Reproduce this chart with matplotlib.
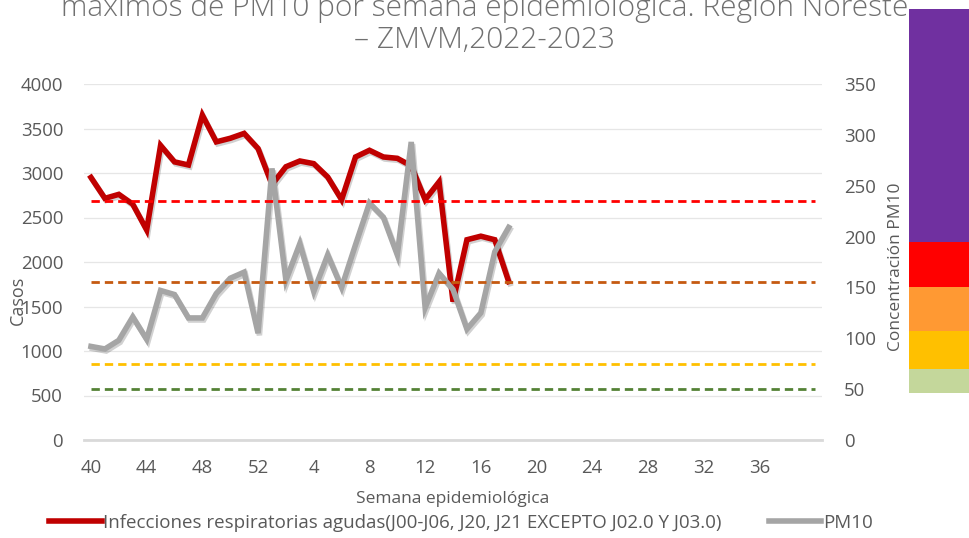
from matplotlib import pyplot as plt
from matplotlib import patheffects as pe
from matplotlib.lines import Line2D

# categorias: semanas 40-52 de 2022 y 1-40 de 2023
semanas = list(range(40, 53)) + list(range(1, 41))

# casos de IRA (eje izquierdo), semana 40/2022 a semana 18/2023
casos = [2950, 2715, 2760, 2650, 2360, 3310, 3125, 3090, 3650, 3350, 3390,
         3445, 3275, 2870, 3070, 3135, 3105, 2955, 2700, 3180, 3255, 3180,
         3165, 3080, 2700, 2900, 1555, 2250, 2290, 2250, 1780]

# maximos de PM10 (eje derecho)
pm10 = [92, 89.5, 98, 121, 99, 147, 143, 120, 120, 144, 159, 165, 105, 267,
        157, 193, 146, 182, 150, 192, 233, 219, 182, 293, 130, 164, 148, 109,
        125, 185, 209]

# lineas de referencia PM10 (punteadas)
umbrales = [235, 155, 75, 50]
umbral_colores = ['#FF0000', '#C55A11', '#FFC000', '#548235']

# barra de colores (concentracion PM10)
banda_limites = [46, 70, 107, 150, 195, 424]
banda_colores = ['#C4D79B', '#FFC000', '#FF9933', '#FF0000', '#7030A0']

plt.rcParams['font.family'] = ['Open Sans', 'DejaVu Sans']
gris = '#595959'
rojo_ira = '#C00000'
gris_pm = '#A5A5A5'
etiqueta_ira = 'Infecciones respiratorias agudas(J00-J06, J20, J21 EXCEPTO J02.0 Y J03.0)'

fig = plt.figure(figsize=(9.69, 5.38), dpi=100)
W, H = 969, 538
x0, x1, y0, y1 = 84, 822, 84, 440
ax = fig.add_axes([x0 / W, 1 - y1 / H, (x1 - x0) / W, (y1 - y0) / H])
ax2 = ax.twinx()

n = len(semanas)
xs = list(range(len(casos)))

sombra = [pe.SimpleLineShadow(offset=(1, -1.5), alpha=0.18, shadow_color='k'), pe.Normal()]

ax.plot(xs, casos, color=rojo_ira, lw=4, solid_joinstyle='miter',
        path_effects=sombra, zorder=3)
ax2.plot(xs, pm10, color=gris_pm, lw=4, solid_joinstyle='miter',
         path_effects=sombra, zorder=3)
for v, c in zip(umbrales, umbral_colores):
    ax2.plot([0, n - 1], [v, v], color=c, lw=2, dashes=(3, 1.8), zorder=4)

ax.set_xlim(-0.5, n - 0.5)
ax.set_ylim(0, 4000)
ax2.set_ylim(0, 350)
ax.set_yticks(range(0, 4001, 500))
ax2.set_yticks(range(0, 351, 50))
ticks = list(range(0, n - 1, 4))
ax.set_xticks(ticks)
ax.set_xticklabels([str(semanas[i]) for i in ticks])

ax.grid(axis='y', color='#E6E6E6', lw=0.9)
ax.set_axisbelow(True)
for a in (ax, ax2):
    for s in a.spines.values():
        s.set_visible(False)
ax.spines['bottom'].set_visible(True)
ax.spines['bottom'].set_color('#D9D9D9')
ax.spines['bottom'].set_linewidth(2)

ax.tick_params(axis='y', length=0, pad=15, labelsize=13.4, labelcolor=gris)
ax.tick_params(axis='x', length=0, pad=14, labelsize=13.4, labelcolor=gris)
ax2.tick_params(axis='y', length=0, pad=16, labelsize=13.4, labelcolor=gris)

ax.set_ylabel('Casos', fontsize=13, color=gris)
ax.yaxis.set_label_coords(-0.078, 0.393)
ax2.set_ylabel('Concentración PM10', fontsize=12.5, color=gris)
ax2.yaxis.set_label_coords(1.0894, 0.486)
ax.set_xlabel('Semana epidemiológica', fontsize=12.5, color=gris, labelpad=10)

# titulo (primera linea recortada en el borde superior, como en la lamina)
fig.text(0.5, 1 - 16 / H, 'máximos de PM10 por semana epidemiológica. Región Noreste',
         ha='center', va='baseline', fontsize=21.5, color='#707070', fontweight='light')
fig.text(0.5, 1 - 48 / H, '– ZMVM,2022-2023',
         ha='center', va='baseline', fontsize=21.5, color='#707070', fontweight='light')

# barra de colores a la derecha
axb = fig.add_axes([909 / W, 1 - y1 / H, 60 / W, (y1 - y0) / H])
axb.set_xlim(0, 1)
axb.set_ylim(0, 350)
axb.axis('off')
for lo, hi, c in zip(banda_limites[:-1], banda_limites[1:], banda_colores):
    axb.bar(0.5, hi - lo, bottom=lo, width=1, color=c, clip_on=False)

manijas = [Line2D([], [], color=rojo_ira, lw=4), Line2D([], [], color=gris_pm, lw=4)]
fig.legend(manijas, [etiqueta_ira, 'PM10'], loc='center',
           bbox_to_anchor=(461 / W, 1 - 523 / H),
           ncol=2, frameon=False, handlelength=2.8, handletextpad=0.1,
           columnspacing=2.5, labelcolor=gris, prop={'size': 13.5})

fig.savefig('out.png', dpi=100)
